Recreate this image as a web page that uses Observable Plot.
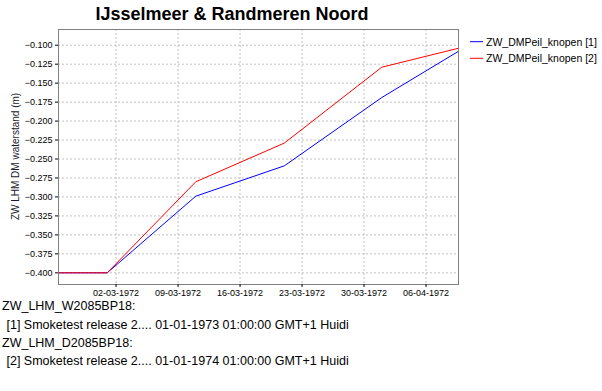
<!DOCTYPE html>
<html>
<head>
<meta charset="utf-8">
<script src="https://cdn.jsdelivr.net/npm/d3@7"></script>
<script src="https://cdn.jsdelivr.net/npm/@observablehq/plot@0.6"></script>
<style>
  html, body { margin: 0; padding: 0; background: #fff; }
  #wrap { position: relative; width: 602px; height: 391px; overflow: hidden; background: #fff; font-family: "Liberation Sans", Arial, sans-serif; }
  #chart { position: absolute; left: 0; top: 0; }
  #overlay { position: absolute; left: 0; top: 0; }
  .foot { position: absolute; font-size: 12.5px; line-height: 16px; color: #000; white-space: pre; }
</style>
</head>
<body>
<div id="wrap">
  <div id="chart"></div>
  <svg id="overlay" width="602" height="300" font-family="Liberation Sans, Arial, sans-serif"></svg>
  <div class="foot" style="left:2px; top:298px;">ZW_LHM_W2085BP18:</div>
  <div class="foot" style="left:3px; top:317px;"> [1] Smoketest release 2.... 01-01-1973 01:00:00 GMT+1 Huidi</div>
  <div class="foot" style="left:2px; top:335px;">ZW_LHM_D2085BP18:</div>
  <div class="foot" style="left:3px; top:353px;"> [2] Smoketest release 2.... 01-01-1974 01:00:00 GMT+1 Huidi</div>
</div>
<script>
const title = "IJsselmeer & Randmeren Noord";
const yLabel = "ZW LHM DM waterstand (m)";
const seriesNames = ["ZW_DMPeil_knopen [1]", "ZW_DMPeil_knopen [2]"];
const seriesColors = ["#0000ff", "#ff0000"];

const dates = ["1972-02-24T12:00", "1972-03-01T00:00", "1972-03-11T00:00", "1972-03-21T00:00", "1972-04-01T00:00", "1972-04-09T16:00"];
const series1 = [-0.400, -0.400, -0.299, -0.259, -0.169, -0.108];
const series2 = [-0.400, -0.400, -0.280, -0.229, -0.129, -0.104];

const xTickLabels = ["1972-03-02", "1972-03-09", "1972-03-16", "1972-03-23", "1972-03-30", "1972-04-06"];
const yTicks = [-0.100, -0.125, -0.150, -0.175, -0.200, -0.225, -0.250, -0.275, -0.300, -0.325, -0.350, -0.375, -0.400];

const parse = s => new Date(s + (s.length > 10 ? ":00Z" : "T00:00:00Z"));
const rows = [];
dates.forEach((d, i) => {
  rows.push({date: parse(d), value: series1[i], series: seriesNames[0]});
  rows.push({date: parse(d), value: series2[i], series: seriesNames[1]});
});
const xTicks = xTickLabels.map(parse);
const fmtDate = d3.utcFormat("%d-%m-%Y");

const chart = Plot.plot({
  width: 602,
  height: 300,
  marginLeft: 58,
  marginRight: 144,
  marginTop: 29,
  marginBottom: 16,
  style: {fontFamily: "Liberation Sans, Arial, sans-serif", fontSize: "9px", color: "#000", background: "transparent"},
  x: {type: "utc", domain: [parse(dates[0]), parse(dates[dates.length - 1])], ticks: xTicks, tickFormat: fmtDate, label: null, tickSize: 3, tickPadding: 2},
  y: {domain: [-0.4154, -0.0793], ticks: yTicks, tickFormat: d3.format(".3f"), label: null, tickSize: 3, tickPadding: 3},
  color: {domain: seriesNames, range: seriesColors},
  marks: [
    Plot.gridX(xTicks, {stroke: "#c0c0c0", strokeOpacity: 1, strokeDasharray: "2,2"}),
    Plot.gridY(yTicks, {stroke: "#c0c0c0", strokeOpacity: 1, strokeDasharray: "2,2"}),
    Plot.lineY(rows, {x: "date", y: "value", z: "series", stroke: "series", strokeWidth: 1, curve: "linear"}),
    Plot.frame({stroke: "#808080"}),
    Plot.axisX({ticks: xTicks, tickFormat: fmtDate, tickSize: 3, tickPadding: 2, label: null}),
    Plot.axisY({ticks: yTicks, tickFormat: d3.format(".3f"), tickSize: 3, tickPadding: 3, label: null})
  ]
});
document.getElementById("chart").appendChild(chart);

const ov = d3.select("#overlay");
ov.append("text").attr("x", 232).attr("y", 19.5).attr("text-anchor", "middle")
  .attr("font-size", 18).attr("font-weight", "bold").attr("fill", "#000").text(title);
ov.append("text").attr("transform", "translate(18.5,156.5) rotate(-90)").attr("text-anchor", "middle")
  .attr("font-size", 10).attr("fill", "#1a1a2a").text(yLabel);
seriesNames.forEach((name, i) => {
  const y = 41.7 + i * 16.6;
  ov.append("line").attr("x1", 470).attr("x2", 483).attr("y1", y).attr("y2", y)
    .attr("stroke", seriesColors[i]).attr("stroke-width", 1);
  ov.append("text").attr("x", 486).attr("y", y + 3.8).attr("font-size", 10.5).attr("fill", "#000").text(name);
});
</script>
</body>
</html>
